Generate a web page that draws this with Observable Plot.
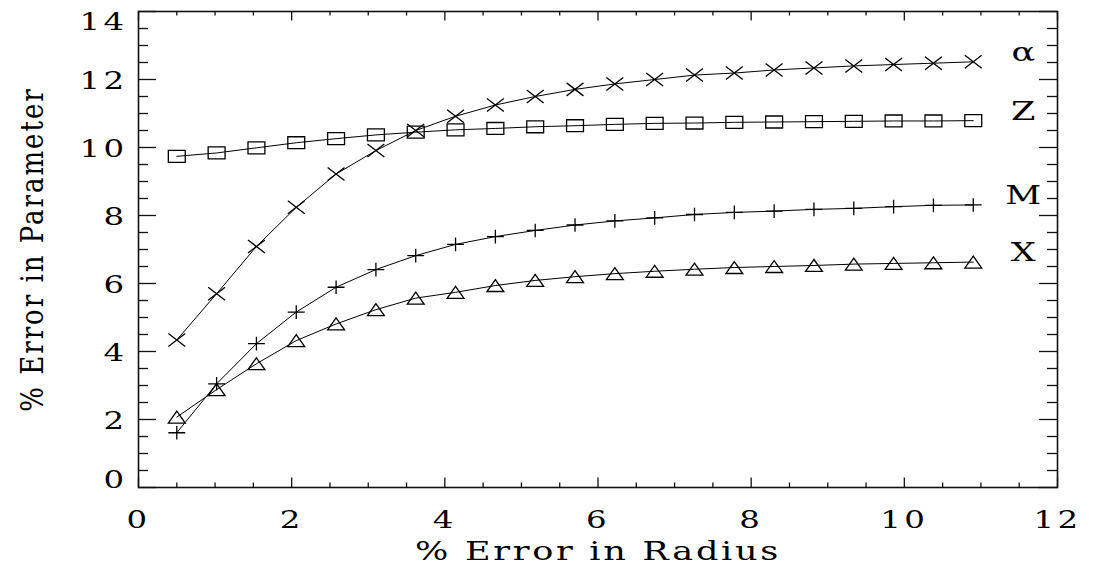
<!DOCTYPE html>
<html>
<head>
<meta charset="utf-8">
<script src="https://cdn.jsdelivr.net/npm/d3@7"></script>
<script src="https://cdn.jsdelivr.net/npm/@observablehq/plot@0.6"></script>
<style>
  html, body { margin: 0; padding: 0; background: #fff; }
</style>
</head>
<body>
<div id="chart"></div>
<script>
// ---- data ----
const radiusError = [0.5, 1.02, 1.54, 2.06, 2.58, 3.1, 3.62, 4.14, 4.66, 5.18, 5.7,
                     6.22, 6.74, 7.26, 7.78, 8.3, 8.82, 9.34, 9.86, 10.38, 10.9];
const alphaErr = [4.34, 5.70, 7.09, 8.24, 9.22, 9.91, 10.50, 10.92, 11.25, 11.50, 11.71,
                  11.87, 12.00, 12.13, 12.19, 12.28, 12.34, 12.40, 12.44, 12.48, 12.52];
const zErr     = [9.74, 9.84, 9.99, 10.14, 10.26, 10.37, 10.45, 10.52, 10.56, 10.61, 10.64,
                  10.68, 10.71, 10.72, 10.74, 10.75, 10.76, 10.77, 10.78, 10.78, 10.79];
const mErr     = [1.61, 3.05, 4.23, 5.16, 5.89, 6.41, 6.82, 7.15, 7.38, 7.56, 7.72,
                  7.84, 7.93, 8.03, 8.09, 8.13, 8.18, 8.21, 8.26, 8.30, 8.31];
const xErr     = [2.07, 2.88, 3.64, 4.32, 4.81, 5.23, 5.57, 5.74, 5.94, 6.09, 6.20,
                  6.29, 6.36, 6.42, 6.47, 6.50, 6.53, 6.57, 6.59, 6.61, 6.63];
const seriesNames = ["α", "Z", "M", "X"];
const xTickLabels = [0, 2, 4, 6, 8, 10, 12];
const yTickLabels = [0, 2, 4, 6, 8, 10, 12, 14];
const xMinorTicks = [0.5, 1, 1.5, 2.5, 3, 3.5, 4.5, 5, 5.5, 6.5, 7, 7.5, 8.5, 9, 9.5, 10.5, 11, 11.5];
const yMinorTicks = [0.5, 1, 1.5, 2.5, 3, 3.5, 4.5, 5, 5.5, 6.5, 7, 7.5, 8.5, 9, 9.5, 10.5, 11, 11.5, 12.5, 13, 13.5];
const xTitle = "% Error in Radius";
const yTitle = "% Error in Parameter";

// ---- layout ----
const W = 1095, H = 565;
const ML = 138, MR = 38, MT = 11, MB = 78;
const PW = W - ML - MR, PH = H - MT - MB;
const FONT = "DejaVu Serif";

// ---- custom (horizontally stretched) markers ----
const crossSym = {draw(c, s) { const r = Math.sqrt(s / Math.PI), a = r * 1.3, b = r;
  c.moveTo(-a, -b); c.lineTo(a, b); c.moveTo(a, -b); c.lineTo(-a, b); }};
const plusSym = {draw(c, s) { const r = Math.sqrt(s / Math.PI), a = r * 1.3, b = r * 1.05;
  c.moveTo(-a, 0); c.lineTo(a, 0); c.moveTo(0, -b); c.lineTo(0, b); }};
const squareSym = {draw(c, s) { const r = Math.sqrt(s / Math.PI), a = r * 1.3, b = r * 0.92;
  c.moveTo(-a, -b); c.lineTo(a, -b); c.lineTo(a, b); c.lineTo(-a, b); c.closePath(); }};
const triSym = {draw(c, s) { const r = Math.sqrt(s / Math.PI), a = r * 1.3, b = r * 0.92;
  c.moveTo(0, -b); c.lineTo(a, b); c.lineTo(-a, b); c.closePath(); }};

const series = [
  {name: seriesNames[0], values: alphaErr, symbol: crossSym},
  {name: seriesNames[1], values: zErr, symbol: squareSym},
  {name: seriesNames[2], values: mErr, symbol: plusSym},
  {name: seriesNames[3], values: xErr, symbol: triSym}
];
const rows = series.flatMap(s => radiusError.map((x, i) => ({name: s.name, x, y: s.values[i]})));
const ends = series.map(s => ({name: s.name, x: radiusError[radiusError.length - 1], y: s.values[s.values.length - 1]}));

const stroke = "#111";
const svg = Plot.plot({
  width: W, height: H,
  marginLeft: ML, marginRight: MR, marginTop: MT, marginBottom: MB,
  x: {domain: [0, 12], axis: null},
  y: {domain: [0, 14], axis: null},
  style: {background: "white", fontFamily: FONT, color: "black"},
  marks: [
    // ticks (inward, on all four sides)
    Plot.ruleX(xTickLabels, {x: d => d, insetTop: PH - 9.5, stroke, strokeWidth: 1.3}),
    Plot.ruleX(xTickLabels, {x: d => d, insetBottom: PH - 9.5, stroke, strokeWidth: 1.3}),
    Plot.ruleX(xMinorTicks, {x: d => d, insetTop: PH - 4.5, stroke, strokeWidth: 1.3}),
    Plot.ruleX(xMinorTicks, {x: d => d, insetBottom: PH - 4.5, stroke, strokeWidth: 1.3}),
    Plot.ruleY(yTickLabels, {y: d => d, insetRight: PW - 18, stroke, strokeWidth: 1.3}),
    Plot.ruleY(yTickLabels, {y: d => d, insetLeft: PW - 18, stroke, strokeWidth: 1.3}),
    Plot.ruleY(yMinorTicks, {y: d => d, insetRight: PW - 10, stroke, strokeWidth: 1.3}),
    Plot.ruleY(yMinorTicks, {y: d => d, insetLeft: PW - 10, stroke, strokeWidth: 1.3}),
    Plot.frame({stroke, strokeWidth: 1.6}),
    // data
    Plot.line(rows, {x: "x", y: "y", z: "name", stroke: "black", strokeWidth: 1}),
    ...series.map(s => Plot.dot(rows.filter(d => d.name === s.name),
      {x: "x", y: "y", symbol: s.symbol, r: 6.5, stroke: "black", fill: "none", strokeWidth: 1.3})),
    // series labels
    Plot.text(ends, {x: "x", y: "y", text: "name", dx: 50, dy: -9, fontSize: 26,
      textAnchor: "middle", lineAnchor: "middle", fill: "black"}),
    // tick labels
    Plot.text(xTickLabels, {x: d => d, text: d => String(d), frameAnchor: "bottom", dy: 32.5,
      fontSize: 24, textAnchor: "middle", lineAnchor: "middle", fill: "black"}),
    Plot.text(yTickLabels.filter(d => d !== 0 && d !== 14), {y: d => d, text: d => String(d), frameAnchor: "left",
      dx: -11, dy: 1.5, fontSize: 24, textAnchor: "end", lineAnchor: "middle", fill: "black"}),
    Plot.text(yTickLabels.filter(d => d === 0), {y: d => d, text: d => String(d), frameAnchor: "left",
      dx: -11, dy: -7, fontSize: 24, textAnchor: "end", lineAnchor: "middle", fill: "black"}),
    Plot.text(yTickLabels.filter(d => d === 14), {y: d => d, text: d => String(d), frameAnchor: "left",
      dx: -11, dy: 10.5, fontSize: 24, textAnchor: "end", lineAnchor: "middle", fill: "black"}),
    // axis titles
    Plot.text([xTitle], {frameAnchor: "bottom", dy: 64, fontSize: 26, textAnchor: "middle",
      lineAnchor: "middle", fill: "black"}),
    Plot.text([yTitle], {frameAnchor: "left", dx: -106, rotate: -90, fontSize: 26, textAnchor: "middle",
      lineAnchor: "middle", fill: "black"})
  ]
});

// Horizontal stretch of glyphs (the reference's lettering is wide) and letter spacing
svg.querySelectorAll("text").forEach(t => {
  const tr = t.getAttribute("transform") || "";
  t.setAttribute("transform", tr + (tr.includes("rotate") ? " scale(1,1.25)" : " scale(1.35,1)"));
  const s = t.textContent;
  let ls = "0px";
  if (s === xTitle) ls = "2px";
  else if (s === yTitle) ls = "2px";
  else if (/^\d+$/.test(s)) ls = "2.5px";
  t.style.letterSpacing = ls;
});
document.getElementById("chart").appendChild(svg);
</script>
</body>
</html>
